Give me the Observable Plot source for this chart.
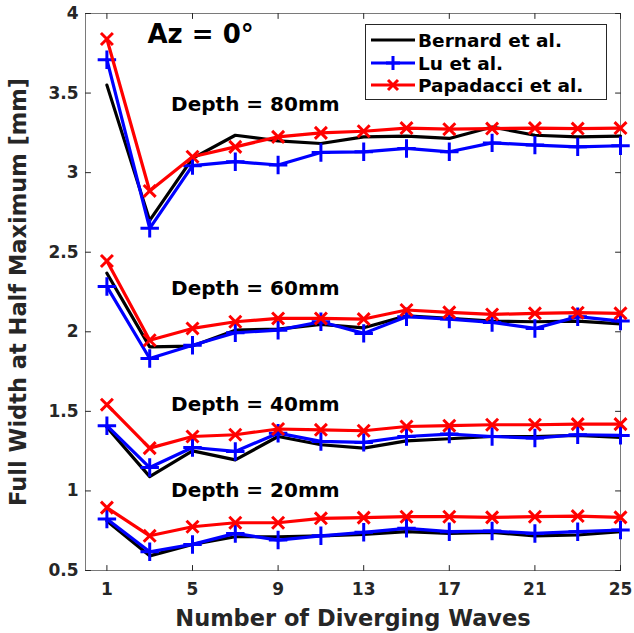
<!DOCTYPE html>
<html><head><meta charset="utf-8">
<script src="https://cdn.jsdelivr.net/npm/d3@7"></script>
<script src="https://cdn.jsdelivr.net/npm/@observablehq/plot@0.6"></script>
<style>
body{margin:0;background:#fff;}
#wrap{position:relative;width:634px;height:633px;font-family:"DejaVu Sans",sans-serif;font-weight:bold;}
#legend{position:absolute;left:365px;top:24px;width:242px;height:76px;border:1px solid #262626;background:#fff;box-sizing:border-box;}
.row{position:absolute;left:4px;height:22px;display:flex;align-items:center;font-size:18.5px;color:#000;white-space:nowrap;}
.row svg{margin-right:2px;}
</style>
</head><body>
<div id="wrap"><div id="chart"></div><div id="legend"></div></div>
<script>
const waves = [1,3,5,7,9,11,13,15,17,19,21,23,25];
const methods = ["Bernard et al.", "Lu et al.", "Papadacci et al."];
const colors = ["#000000", "#0000ff", "#ff0000"];
const depths = [80, 60, 40, 20];
const xTicks = [1,5,9,13,17,21,25];
const yTicks = [0.5,1,1.5,2,2.5,3,3.5,4];

// Bernard et al.
const bernard80 = [3.55,2.70,3.09,3.235,3.20,3.183,3.225,3.23,3.215,3.287,3.235,3.225,3.23];
const bernard60 = [2.368,1.905,1.91,2.01,2.017,2.046,2.025,2.10,2.084,2.067,2.063,2.067,2.05];
const bernard40 = [1.40,1.09,1.252,1.195,1.342,1.29,1.269,1.315,1.328,1.342,1.342,1.349,1.336];
const bernard20 = [0.811,0.592,0.664,0.712,0.712,0.718,0.727,0.744,0.733,0.74,0.718,0.723,0.744];
// Lu et al.
const lu80 = [3.71,2.65,3.044,3.069,3.048,3.127,3.131,3.152,3.131,3.187,3.173,3.162,3.169];
const lu60 = [2.284,1.832,1.916,1.994,2.01,2.063,1.99,2.095,2.08,2.059,2.021,2.095,2.067];
const lu40 = [1.41,1.147,1.273,1.248,1.363,1.311,1.305,1.342,1.357,1.342,1.332,1.353,1.349];
const lu20 = [0.824,0.618,0.664,0.733,0.691,0.718,0.74,0.765,0.744,0.748,0.733,0.744,0.754];
// Papadacci et al.
const pap80 = [3.84,2.885,3.10,3.162,3.225,3.25,3.26,3.28,3.273,3.277,3.28,3.277,3.28];
const pap60 = [2.445,1.947,2.021,2.063,2.084,2.084,2.08,2.137,2.122,2.109,2.116,2.12,2.116];
const pap40 = [1.542,1.269,1.342,1.353,1.389,1.384,1.378,1.405,1.41,1.416,1.416,1.42,1.42];
const pap20 = [0.895,0.718,0.775,0.80,0.80,0.828,0.832,0.838,0.838,0.834,0.838,0.842,0.834];

const seriesByMethod = [
  [bernard80, bernard60, bernard40, bernard20],
  [lu80, lu60, lu40, lu20],
  [pap80, pap60, pap40, pap20]
];

const depthLabels = ["Depth = 80mm", "Depth = 60mm", "Depth = 40mm", "Depth = 20mm"];
const labelX = [4.0, 4.0, 4.0, 4.0];
const labelY = [3.43, 2.27, 1.545, 1.0];
const title = "Az = 0°";
const xTitle = "Number of Diverging Waves";
const yTitle = "Full Width at Half Maximum [mm]";

const rows = [];
methods.forEach((m, mi) => {
  seriesByMethod[mi].forEach((vals, di) => {
    vals.forEach((v, i) => rows.push({method: m, depth: depths[di], key: m + depths[di], n: waves[i], v}));
  });
});
const labels = depthLabels.map((t, i) => ({t, x: labelX[i], y: labelY[i]}));

const tickShape = {draw(ctx, l) { ctx.moveTo(0, 0); ctx.lineTo(0, -l); }};
const tickOpts = {length: 5, anchor: "start", shape: tickShape, stroke: "#262626", strokeWidth: 1};

const lineMarks = [];
methods.forEach((m, mi) => {
  const d = rows.filter(r => r.method === m);
  lineMarks.push(Plot.line(d, {x: "n", y: "v", z: "key", stroke: colors[mi], strokeWidth: 3.2}));
  if (mi === 1) lineMarks.push(Plot.dot(d, {x: "n", y: "v", symbol: "plus", r: 6, stroke: colors[mi], strokeWidth: 3}));
  if (mi === 2) lineMarks.push(Plot.dot(d, {x: "n", y: "v", symbol: "times", r: 5.5, stroke: colors[mi], strokeWidth: 3}));
});

const chart = Plot.plot({
  width: 634, height: 633,
  marginLeft: 85, marginRight: 14, marginTop: 13, marginBottom: 63,
  style: {fontFamily: "DejaVu Sans", fontWeight: "bold", background: "white", color: "#262626"},
  x: {domain: [0, 25], label: null},
  y: {domain: [0.5, 4], label: null},
  marks: [
    Plot.frame({stroke: "#7a7a7a", strokeWidth: 1}),
    Plot.axisX(xTicks, {tickSize: 0, tickPadding: 12, fontSize: 17, fill: "#262626", label: null, tickFormat: d => String(d)}),
    Plot.axisY(yTicks, {tickSize: 0, tickPadding: 7, fontSize: 17, fill: "#262626", label: null, tickFormat: d => String(d)}),
    Plot.vector(xTicks, {x: d => d, frameAnchor: "bottom", rotate: 0, ...tickOpts}),
    Plot.vector(xTicks, {x: d => d, frameAnchor: "top", rotate: 180, ...tickOpts}),
    Plot.vector(yTicks, {y: d => d, frameAnchor: "left", rotate: 90, ...tickOpts}),
    Plot.vector(yTicks, {y: d => d, frameAnchor: "right", rotate: -90, ...tickOpts}),
    ...lineMarks,
    Plot.text(labels, {x: "x", y: "y", text: "t", textAnchor: "start", fontSize: 20, fontWeight: "bold", fill: "#000"}),
    Plot.text([title], {frameAnchor: "top-left", dx: 62, dy: 11, textAnchor: "start", lineAnchor: "top", fontSize: 26, fontWeight: "bold", fill: "#000"}),
    Plot.text([xTitle], {frameAnchor: "bottom", dy: 48, lineAnchor: "middle", textAnchor: "middle", fontSize: 22.5, fontWeight: "bold", fill: "#262626"}),
    Plot.text([yTitle], {frameAnchor: "left", dx: -67, rotate: -90, textAnchor: "middle", lineAnchor: "middle", fontSize: 22.5, fontWeight: "bold", fill: "#262626"})
  ]
});
document.getElementById("chart").appendChild(chart);

// legend
const legend = document.getElementById("legend");
const rowTops = [4, 27, 49];
methods.forEach((m, i) => {
  const row = document.createElement("div");
  row.className = "row";
  row.style.top = rowTops[i] + "px";
  let marker = "";
  if (i === 1) marker = `<path d="M23,-7V7M16,0H30" stroke="${colors[i]}" stroke-width="3"/>`;
  if (i === 2) marker = `<path d="M18,-5L28,5M18,5L28,-5" stroke="${colors[i]}" stroke-width="3"/>`;
  row.innerHTML = `<svg width="46" height="20" viewBox="0 -10 46 20"><line x1="1" x2="45" y1="0" y2="0" stroke="${colors[i]}" stroke-width="3.2"/>${marker}</svg><span>${m}</span>`;
  legend.appendChild(row);
});
</script>
</body></html>
